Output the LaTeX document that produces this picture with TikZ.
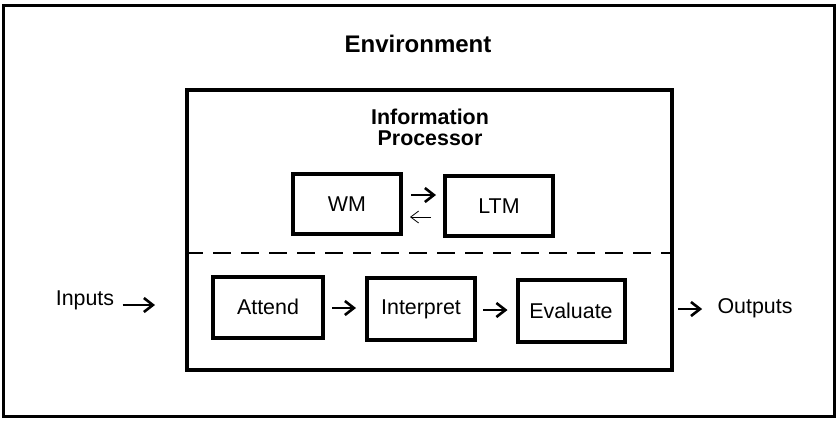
\documentclass[tikz,border=0pt]{standalone}
\usepackage{fontspec}
\setmainfont{Liberation Sans}
\usetikzlibrary{arrows.meta}

\tikzset{
  box/.style={draw, line width=2pt, minimum width=54pt, minimum height=30pt, inner sep=0pt, font=\fontsize{10.7}{12.5}\selectfont},
  flow/.style={-{Straight Barb[length=4.5pt,width=7pt]}, line width=1.3pt},
  thinflow/.style={-{Straight Barb[length=4pt,width=6pt]}, line width=0.4pt},
  plain/.style={font=\fontsize{10.7}{12.5}\selectfont, inner sep=0pt}
}

\begin{document}
\begin{tikzpicture}[x=0.5pt,y=-0.5pt]
\useasboundingbox (0,0) rectangle (836,424);
\node[draw, line width=1.5pt, minimum width=415.5pt, minimum height=205.5pt, inner sep=0pt] (env) at (418.5,210.5) {};
\node[font=\fontsize{12}{14}\selectfont\bfseries] (envtitle) at (418,44) {Environment};
\node[draw, line width=2pt, minimum width=242.5pt, minimum height=140pt, inner sep=0pt] (proc) at (429.5,230) {};
\node[font=\fontsize{10.7}{10.5}\selectfont\bfseries, align=center] (proctitle) at (430,127) {Information\\Processor};
\coordinate (split) at (430,253);
\draw[dash pattern=on 9pt off 5pt, line width=0.8pt] (proc.west |- split) -- (proc.east |- split);

\node[box] (wm) at (347,204) {WM};
\node[box] (ltm) at (499,206) {LTM};
\node[box, minimum width=55pt, minimum height=30.5pt] (attend) at (268,307) {Attend};
\node[box, minimum height=31pt] (interp) at (421,309) {Interpret};
\node[box, minimum width=53.5pt, minimum height=31pt] (eval) at (571,311) {Evaluate};

\draw[flow, shorten <=4pt, shorten >=3.5pt] ([yshift=4.5pt]wm.east) -- ([yshift=4.5pt]wm.east -| ltm.west);
\draw[thinflow, shorten <=6pt, shorten >=3.5pt] ([yshift=-5.5pt]ltm.west) -- ([yshift=-5.5pt]ltm.west -| wm.east);
\draw[flow, shorten <=3.5pt, shorten >=4.5pt] ([yshift=-0.5pt]attend.east) -- ([yshift=-0.5pt]attend.east -| interp.west);
\draw[flow, shorten <=3pt, shorten >=4pt] ([yshift=-0.5pt]interp.east) -- ([yshift=-0.5pt]interp.east -| eval.west);

\node[plain] (inputs) at (85,300) {Inputs};
\coordinate (inhead) at (155,305);
\draw[flow] (inputs.east |- inhead) ++(8,0) -- (inhead);

\node[plain] (outputs) at (755,308) {Outputs};
\coordinate (outtail) at (678,309);
\draw[flow, shorten >=7.5pt] (outtail) -- (outputs.west |- outtail);
\end{tikzpicture}
\end{document}
